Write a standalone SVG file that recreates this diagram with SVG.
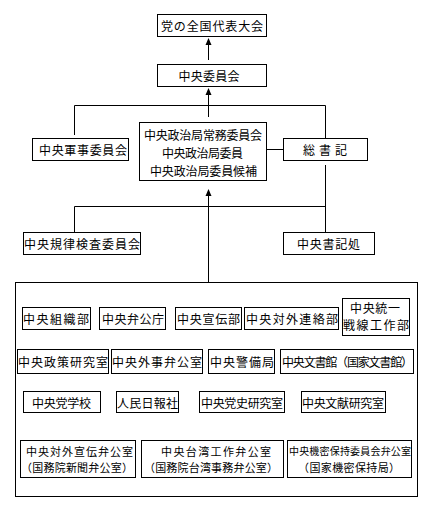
<svg xmlns="http://www.w3.org/2000/svg" width="436" height="512" viewBox="0 0 436 512">
<style>
rect{fill:#fff;stroke:#000;stroke-width:1}
text{font-family:"Noto Sans CJK JP","Noto Sans CJK SC",sans-serif;font-size:12px;fill:#000;text-anchor:middle;dominant-baseline:central}
.sm{font-size:11px}
.ln{stroke:#000;stroke-width:1;fill:none}
.ah{fill:#000;stroke:none}
</style>
<rect x="0" y="0" width="436" height="512" style="stroke:none"/>
<g id="connectors">
<line class="ln" x1="208.5" y1="60" x2="208.5" y2="40"/>
<line class="ln" x1="208.5" y1="117" x2="208.5" y2="90"/>
<line class="ln" x1="208.5" y1="282" x2="208.5" y2="191"/>
<path class="ln" d="M74.5,135 V105.5 H325.5 V138"/>
<path class="ln" d="M267,149.5 H283"/>
<path class="ln" d="M325.5,165 V232 M74.5,232 V206.5 H325.5"/>
<path class="ah" d="M208.5,38 L211.5,45 L205.5,45 Z"/>
<path class="ah" d="M208.5,88 L211.5,95 L205.5,95 Z"/>
<path class="ah" d="M208.5,189 L211.5,196 L205.5,196 Z"/>
</g>
<g id="n-congress"><rect x="157.5" y="14.5" width="109" height="22"/><text x="212" y="25.5" textLength="102">党の全国代表大会</text></g>
<g id="n-cc"><rect x="157.5" y="64.5" width="109" height="22"/><text x="209" y="75.5" textLength="61">中央委員会</text></g>
<g id="n-politburo"><rect x="139.5" y="122.5" width="127" height="58"/>
<text x="203" y="134" textLength="118">中央政治局常務委員会</text>
<text x="202.5" y="152" textLength="81">中央政治局委員</text>
<text x="203.5" y="170" textLength="107">中央政治局委員候補</text></g>
<g id="n-cmc"><rect x="32.5" y="138.5" width="96" height="22"/><text x="83" y="149.5" textLength="88">中央軍事委員会</text></g>
<g id="n-gs"><rect x="283.5" y="138.5" width="84" height="22"/><text x="325" y="149.5" textLength="44">総書記</text></g>
<g id="n-ccdi"><rect x="23.5" y="232.5" width="117" height="22"/><text x="82" y="243.5" textLength="116">中央規律検査委員会</text></g>
<g id="n-secretariat"><rect x="283.5" y="232.5" width="91" height="22"/><text x="328.5" y="243.5" textLength="63">中央書記処</text></g>
<g id="n-organs"><rect x="15.5" y="282.5" width="402" height="214"/></g>
<g id="n-org"><rect x="22.5" y="307.5" width="68" height="22"/><text x="56" y="318.5" textLength="66">中央組織部</text></g>
<g id="n-gen"><rect x="99.5" y="307.5" width="66" height="22"/><text x="133" y="318.5" textLength="62">中央弁公庁</text></g>
<g id="n-prop"><rect x="175.5" y="307.5" width="66" height="22"/><text x="208.5" y="318.5" textLength="63">中央宣伝部</text></g>
<g id="n-intl"><rect x="244.5" y="307.5" width="94" height="22"/><text x="292" y="318.5" textLength="92">中央対外連絡部</text></g>
<g id="n-ufwd"><rect x="342.5" y="298.5" width="67" height="37"/><text x="375" y="307" textLength="50">中央統一</text><text x="376" y="324.5" textLength="66">戦線工作部</text></g>
<g id="n-policy"><rect x="17.5" y="349.5" width="91" height="24"/><text x="63" y="361.5" textLength="90">中央政策研究室</text></g>
<g id="n-fa"><rect x="111.5" y="349.5" width="91" height="24"/><text x="157" y="361.5" textLength="90">中央外事弁公室</text></g>
<g id="n-guard"><rect x="208.5" y="349.5" width="66" height="24"/><text x="242" y="361.5" textLength="64">中央警備局</text></g>
<g id="n-archives"><rect x="280.5" y="349.5" width="133" height="24"/><text x="347.5" y="361.5" textLength="131">中央文書館（国家文書館）</text></g>
<g id="n-school"><rect x="23.5" y="391.5" width="77" height="21"/><text x="61.5" y="402" textLength="59">中央党学校</text></g>
<g id="n-daily"><rect x="116.5" y="391.5" width="62" height="21"/><text x="147.5" y="402" textLength="61">人民日報社</text></g>
<g id="n-history"><rect x="199.5" y="391.5" width="85" height="21"/><text x="242" y="402" textLength="82">中央党史研究室</text></g>
<g id="n-lit"><rect x="301.5" y="391.5" width="84" height="21"/><text x="343" y="402" textLength="82">中央文献研究室</text></g>
<g id="n-ext"><rect x="20.5" y="440.5" width="115" height="37"/><text class="sm" x="79.5" y="450.5" textLength="107">中央対外宣伝弁公室</text><text class="sm" x="77" y="466.5" textLength="112">（国務院新聞弁公室）</text></g>
<g id="n-taiwan"><rect x="141.5" y="440.5" width="142" height="37"/><text class="sm" x="216" y="450.5" textLength="110">中央台湾工作弁公室</text><text class="sm" x="211" y="466.5" textLength="134">（国務院台湾事務弁公室）</text></g>
<g id="n-secrecy"><rect x="287.5" y="440.5" width="124" height="37"/><text x="350" y="450.5" textLength="122" style="font-size:10px">中央機密保持委員会弁公室</text><text class="sm" x="349" y="466.5" textLength="102">（国家機密保持局）</text></g>
</svg>
